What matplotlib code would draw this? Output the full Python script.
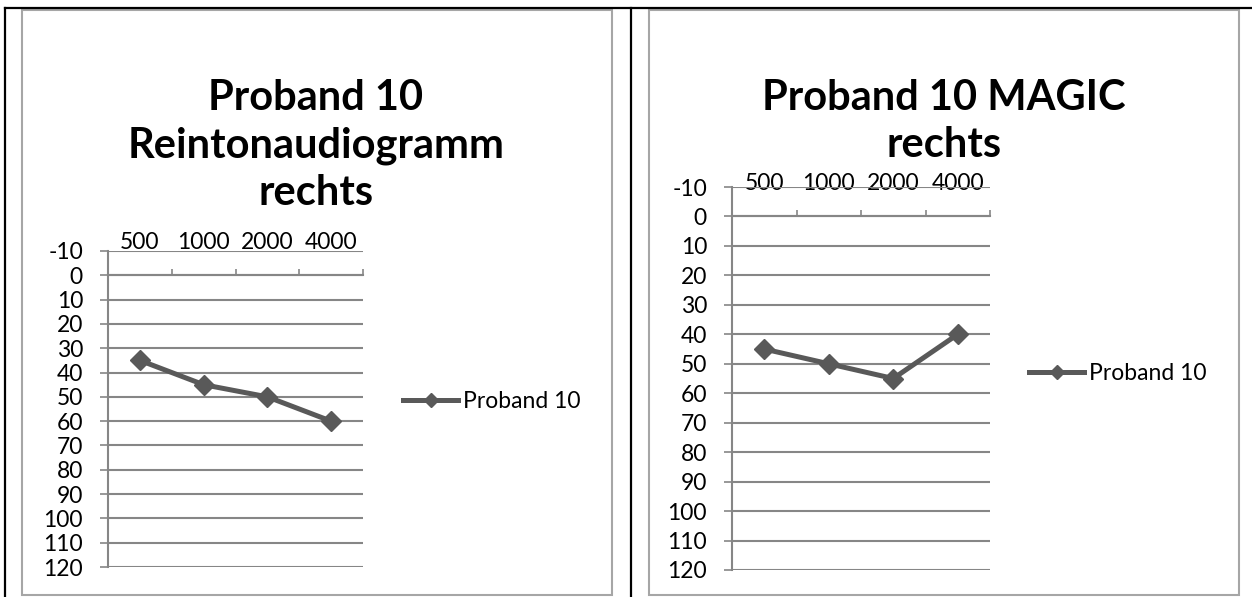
import matplotlib
matplotlib.use('Agg')
import matplotlib.pyplot as plt
from matplotlib.lines import Line2D
from matplotlib.patches import Rectangle

# data
freqs = ['500', '1000', '2000', '4000']
levels_left = [35, 45, 50, 60]
levels_right = [45, 50, 55, 40]
series_name = 'Proband 10'
title_left = 'Proband 10\nReintonaudiogramm\nrechts'
title_right = 'Proband 10 MAGIC\nrechts'
y_ticks = list(range(-10, 121, 10))

W, H = 1252, 597
plt.rcParams['font.family'] = ['Lato', 'DejaVu Sans']

fig = plt.figure(figsize=(W / 100, H / 100), dpi=100)


# pixel -> figure fraction
def fx(x):
    return x / W


def fy(y):
    return 1 - y / H


line_col = '#595959'
grid_col = '#868686'
frame_col = '#a6a6a6'

# black table rules
for xs, ys in [([5, 5], [8, 597]), ([5, 1252], [8, 8]), ([631, 631], [8, 597])]:
    fig.add_artist(Line2D([fx(v) for v in xs], [fy(v) for v in ys], color='black', lw=1.6))

# gray chart frames
for x0, x1 in [(22, 612), (649, 1239)]:
    fig.add_artist(Rectangle((fx(x0), fy(595)), fx(x1) - fx(x0), fy(10) - fy(595),
                             fill=False, ec=frame_col, lw=1.5, transform=fig.transFigure))


def audiogram(px_box, values, title, title_x, legend_xy):
    left, top, right, bottom = px_box
    ax = fig.add_axes([fx(left), fy(bottom), fx(right) - fx(left), fy(top) - fy(bottom)])
    xs = list(range(1, len(values) + 1))
    ax.plot(xs, values, color=line_col, lw=3.6, marker='D', ms=10.5,
            label=series_name, zorder=3, clip_on=False)
    ax.set_xlim(0.5, len(values) + 0.5)
    ax.set_ylim(120, -10)

    # value axis
    ax.set_yticks(y_ticks)
    ax.set_yticklabels([str(v) for v in y_ticks])
    ax.yaxis.grid(True, color=grid_col, lw=1.5)
    ax.tick_params(axis='y', direction='out', length=6, width=1.2, color=grid_col,
                   labelsize=16.5, pad=12)

    # category axis crosses at 0, labels on top
    ax.spines['top'].set_position(('data', 0))
    for s in ['bottom', 'right']:
        ax.spines[s].set_visible(False)
    for s in ['top', 'left']:
        ax.spines[s].set_color(grid_col)
        ax.spines[s].set_linewidth(1.5)
    ax.xaxis.tick_top()
    bounds = [i + 0.5 for i in range(len(values) + 1)]
    ax.set_xticks(bounds)
    ax.set_xticklabels([''] * len(bounds))
    ax.set_xticks(xs, minor=True)
    ax.set_xticklabels(freqs, minor=True)
    ax.tick_params(axis='x', which='major', direction='out', length=4.5, width=1.2, color=grid_col)
    ax.tick_params(axis='x', which='minor', length=0, pad=16, labelsize=16.5)

    ax.legend(loc='center left', bbox_to_anchor=(fx(legend_xy[0]), fy(legend_xy[1])),
              bbox_transform=fig.transFigure, frameon=False, fontsize=16.5,
              handlelength=2.4, handletextpad=0.2, borderpad=0, borderaxespad=0,
              markerscale=0.7)

    fig.text(fx(title_x), fy(79), title, ha='center', va='top', fontsize=30,
             fontweight='bold', linespacing=1.3)
    return ax


audiogram((108, 251, 363, 567), levels_left, title_left, 316, (403, 402))
audiogram((732, 187, 990, 570), levels_right, title_right, 944, (1029, 374))

fig.savefig('out.png', dpi=100)
